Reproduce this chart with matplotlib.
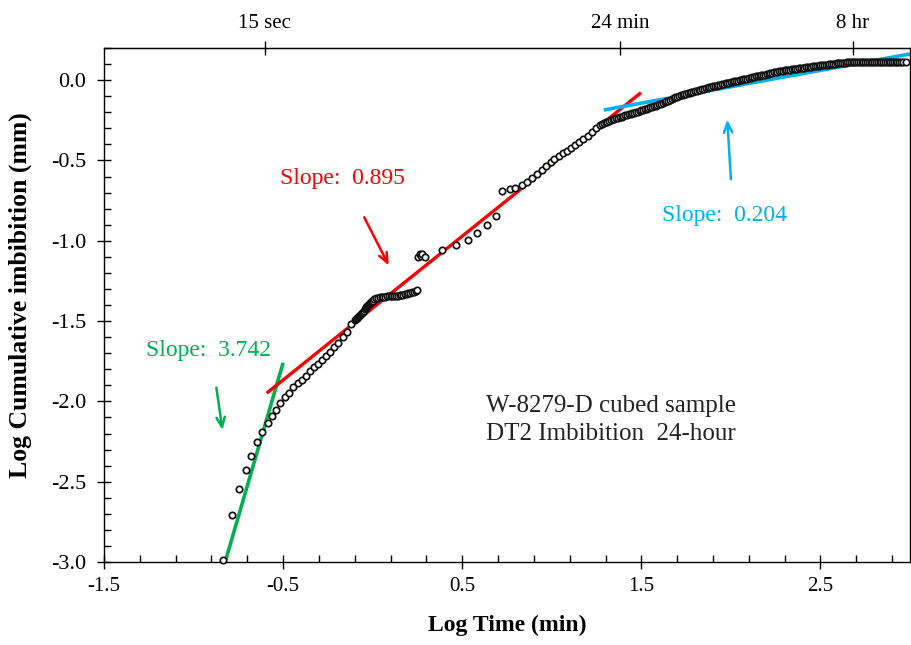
import matplotlib
matplotlib.use('Agg')
import matplotlib.pyplot as plt
import numpy as np

plt.rcParams['font.family'] = ['Liberation Serif', 'DejaVu Serif']

# ---------------- data ----------------
log_time = [
    # early sparse points
    -0.833, -0.787, -0.748, -0.707, -0.678, -0.648, -0.617, -0.585, -0.561, -0.537,
    -0.515, -0.490, -0.467,
    -0.443, -0.418, -0.397, -0.374, -0.350, -0.328, -0.306, -0.283, -0.261, -0.239,
    -0.217, -0.194, -0.167, -0.141, -0.120,
    # dense segment
    -0.10, -0.095, -0.09, -0.085, -0.08, -0.075, -0.07, -0.065, -0.06, -0.055,
    -0.05, -0.045, -0.04, -0.035, -0.03, -0.025, -0.02, -0.015, -0.01, -0.005,
    0.00, 0.01, 0.02, 0.03, 0.04, 0.05, 0.06, 0.07, 0.08, 0.09,
    0.10, 0.11, 0.12, 0.13, 0.14, 0.15, 0.16, 0.17, 0.18, 0.19,
    0.20, 0.21, 0.22, 0.23, 0.24, 0.25,
    # cluster
    0.255, 0.262, 0.268, 0.275, 0.292,
    # sparse middle
    0.385, 0.465, 0.533, 0.585, 0.641, 0.687,
    0.724, 0.765, 0.796, 0.833, 0.863, 0.891, 0.918, 0.944, 0.969, 0.993,
    1.015, 1.039, 1.061, 1.085, 1.107, 1.129, 1.152, 1.176, 1.200, 1.224,
    1.248, 1.270,
    # dense late segment
    1.28, 1.29, 1.30, 1.31, 1.32, 1.33, 1.34, 1.35, 1.36, 1.37,
    1.38, 1.39, 1.40, 1.41, 1.42, 1.43, 1.44, 1.45, 1.46, 1.47,
    1.48, 1.49, 1.50, 1.51, 1.52, 1.53, 1.54, 1.55, 1.56, 1.57,
    1.58, 1.59, 1.60, 1.61, 1.62, 1.63, 1.64, 1.65, 1.66, 1.67,
    1.68, 1.69, 1.70, 1.71, 1.72, 1.73, 1.74, 1.75, 1.76, 1.77,
    1.78, 1.79, 1.80, 1.81, 1.82, 1.83, 1.84, 1.85, 1.86, 1.87,
    1.88, 1.89, 1.90, 1.91, 1.92, 1.93, 1.94, 1.95, 1.96, 1.97,
    1.98, 1.99, 2.00, 2.01, 2.02, 2.03, 2.04, 2.05, 2.06, 2.07,
    2.08, 2.09, 2.10, 2.11, 2.12, 2.13, 2.14, 2.15, 2.16, 2.17,
    2.18, 2.19, 2.20, 2.21, 2.22, 2.23, 2.24, 2.25, 2.26, 2.27,
    2.28, 2.29, 2.30, 2.31, 2.32, 2.33, 2.34, 2.35, 2.36, 2.37,
    2.38, 2.39, 2.40, 2.41, 2.42, 2.43, 2.44, 2.45, 2.46, 2.47,
    2.48, 2.49, 2.50, 2.51, 2.52, 2.53, 2.54, 2.55, 2.56, 2.57,
    2.58, 2.59, 2.60, 2.61, 2.62, 2.63, 2.64, 2.65, 2.66, 2.67,
    2.68, 2.69, 2.70, 2.71, 2.72, 2.73, 2.74, 2.75, 2.76, 2.77,
    2.78, 2.79, 2.80, 2.81, 2.82, 2.83, 2.84, 2.85, 2.86, 2.87,
    2.88, 2.89, 2.90, 2.91, 2.92, 2.93, 2.94, 2.95, 2.96, 2.975,
]
log_imbibition = [
    -2.986, -2.706, -2.544, -2.430, -2.337, -2.250, -2.190, -2.135, -2.094, -2.053,
    -2.011, -1.972, -1.945,
    -1.910, -1.887, -1.866, -1.841, -1.814, -1.789, -1.766, -1.741, -1.717, -1.690,
    -1.662, -1.637, -1.600, -1.565, -1.520,
    -1.495, -1.489, -1.483, -1.478, -1.472, -1.467, -1.461, -1.455, -1.449, -1.443,
    -1.436, -1.428, -1.420, -1.412, -1.405, -1.398, -1.392, -1.387, -1.382, -1.377,
    -1.372, -1.365, -1.359, -1.355, -1.352, -1.350, -1.349, -1.348, -1.347, -1.347,
    -1.347, -1.346, -1.345, -1.343, -1.341, -1.339, -1.337, -1.335, -1.332, -1.329,
    -1.326, -1.323, -1.320, -1.317, -1.313, -1.309,
    -1.100, -1.080, -1.092, -1.085, -1.099,
    -1.057, -1.028, -0.995, -0.949, -0.900, -0.845,
    -0.690, -0.679, -0.673, -0.654, -0.632, -0.607, -0.584, -0.559, -0.533, -0.509,
    -0.489, -0.472, -0.455, -0.439, -0.422, -0.403, -0.387, -0.368, -0.348, -0.325,
    -0.300, -0.279,
    -0.272, -0.267, -0.262, -0.258, -0.253, -0.249, -0.245, -0.241, -0.238, -0.234,
    -0.231, -0.227, -0.224, -0.220, -0.217, -0.213, -0.210, -0.206, -0.203, -0.199,
    -0.196, -0.192, -0.189, -0.185, -0.182, -0.178, -0.174, -0.170, -0.166, -0.162,
    -0.158, -0.154, -0.150, -0.146, -0.141, -0.137, -0.132, -0.128, -0.123, -0.118,
    -0.113, -0.108, -0.103, -0.098, -0.094, -0.090, -0.087, -0.084, -0.081, -0.078,
    -0.075, -0.072, -0.069, -0.066, -0.063, -0.060, -0.057, -0.054, -0.051, -0.048,
    -0.045, -0.042, -0.039, -0.036, -0.034, -0.031, -0.029, -0.026, -0.023, -0.021,
    -0.018, -0.016, -0.013, -0.010, -0.008, -0.005, -0.003, 0.000, 0.002, 0.005,
    0.008, 0.010, 0.013, 0.015, 0.018, 0.020, 0.023, 0.025, 0.028, 0.030,
    0.033, 0.035, 0.038, 0.040, 0.043, 0.045, 0.048, 0.050, 0.053, 0.055,
    0.057, 0.059, 0.061, 0.063, 0.064, 0.066, 0.068, 0.069, 0.071, 0.072,
    0.074, 0.075, 0.077, 0.078, 0.080, 0.081, 0.083, 0.084, 0.086, 0.087,
    0.089, 0.090, 0.092, 0.093, 0.095, 0.096, 0.097, 0.099, 0.100, 0.101,
    0.102, 0.104, 0.105, 0.106, 0.107, 0.108, 0.109, 0.110, 0.111, 0.111,
    0.112, 0.112, 0.113, 0.113, 0.114, 0.114, 0.114, 0.114, 0.114, 0.114,
    0.114, 0.114, 0.114, 0.114, 0.114, 0.114, 0.114, 0.114, 0.114, 0.114,
    0.114, 0.114, 0.114, 0.114, 0.114, 0.114, 0.114, 0.114, 0.114, 0.112,
]

# fitted trend lines (end points)
green_x = [-0.82, -0.50]
green_y = [-2.986, -1.76]
red_x = [-0.592, 1.498]
red_y = [-1.949, -0.078]
blue_x = [1.29, 3.0]
blue_y = [-0.186, 0.163]

slope_labels = ["Slope:  3.742", "Slope:  0.895", "Slope:  0.204"]
sample_text = "W-8279-D cubed sample\nDT2 Imbibition  24-hour"

x_ticks = [-1.5, -0.5, 0.5, 1.5, 2.5]
y_ticks = [-3.0, -2.5, -2.0, -1.5, -1.0, -0.5, 0.0]
top_tick_minutes = [0.25, 24, 480]
top_tick_labels = ["15 sec", "24 min", "8 hr"]

GREEN = '#00B050'
RED = '#FF0000'
BLUE = '#00B0F0'

# ---------------- figure ----------------
fig = plt.figure(figsize=(9.12, 6.45), dpi=100)
ax = fig.add_axes([104 / 912, 1 - 562 / 645, (910 - 104) / 912, (562 - 48) / 645])

ax.plot(green_x, green_y, color=GREEN, lw=2.6, solid_capstyle='butt', zorder=2)
ax.plot(red_x, red_y, color=RED, lw=2.4, solid_capstyle='butt', zorder=2)
ax.plot(blue_x, blue_y, color=BLUE, lw=2.6, solid_capstyle='butt', zorder=2)

ax.plot(log_time, log_imbibition, linestyle='none', marker='o', ms=4.6,
        mfc='white', mec='#111111', mew=1.25, zorder=3, clip_on=False)

ax.set_xlim(-1.5, 3.0)
ax.set_ylim(-3.0, 0.2)

ax.set_xticks(x_ticks)
ax.set_xticklabels([f"{v:.1f}" for v in x_ticks])
ax.set_xticks(np.arange(-1.5, 3.001, 0.2), minor=True)
ax.set_yticks(y_ticks)
ax.set_yticklabels([f"{v:.1f}" for v in y_ticks])
ax.set_yticks(np.arange(-3.0, 0.201, 0.1), minor=True)

ax.tick_params(axis='both', which='major', direction='inout', length=10, width=1,
               colors='black')
ax.tick_params(axis='both', which='minor', direction='in', length=5, width=1)
ax.tick_params(axis='x', which='major', labelsize=15, pad=6)
ax.tick_params(axis='y', which='major', labelsize=16, pad=8)
ax.tick_params(top=False, right=False, which='both')

for s in ax.spines.values():
    s.set_linewidth(1.0)
    s.set_color('black')

top = ax.secondary_xaxis('top')
top.set_xticks(np.log10(top_tick_minutes))
top.set_xticklabels(top_tick_labels)
top.tick_params(axis='x', which='major', direction='inout', length=10, width=1,
                labelsize=15, pad=6)
top.tick_params(axis='x', which='minor', length=0)

ax.set_xlabel("Log Time (min)", fontsize=17, fontweight='bold')
ax.xaxis.set_label_coords(0.5, -0.103)
ax.set_ylabel("Log Cumulative imbibition (mm)", fontsize=18.5, fontweight='bold')
ax.yaxis.set_label_coords(-0.089, 0.52)

# slope annotations
arrow_style = '->,head_length=0.7,head_width=0.3'
ax.text(-0.919, -1.686, slope_labels[0], color=GREEN, fontsize=17, ha='center', va='center')
ax.annotate("", xy=(-0.836, -2.196), xytext=(-0.875, -1.897),
            arrowprops=dict(arrowstyle=arrow_style, color=GREEN, lw=1.8))
ax.text(-0.166, -0.615, slope_labels[1], color=RED, fontsize=17, ha='center', va='center')
ax.annotate("", xy=(0.097, -1.169), xytext=(-0.054, -0.839),
            arrowprops=dict(arrowstyle=arrow_style, color=RED, lw=1.8))
ax.text(1.962, -0.845, slope_labels[2], color=BLUE, fontsize=17, ha='center', va='center')
ax.annotate("", xy=(1.979, -0.229), xytext=(2.001, -0.634),
            arrowprops=dict(arrowstyle=arrow_style, color=BLUE, lw=1.8))

ax.text(1.331, -2.118, sample_text, color='#222222', fontsize=18, ha='center',
        va='center', linespacing=1.35)

fig.savefig('out.png', dpi=100)
